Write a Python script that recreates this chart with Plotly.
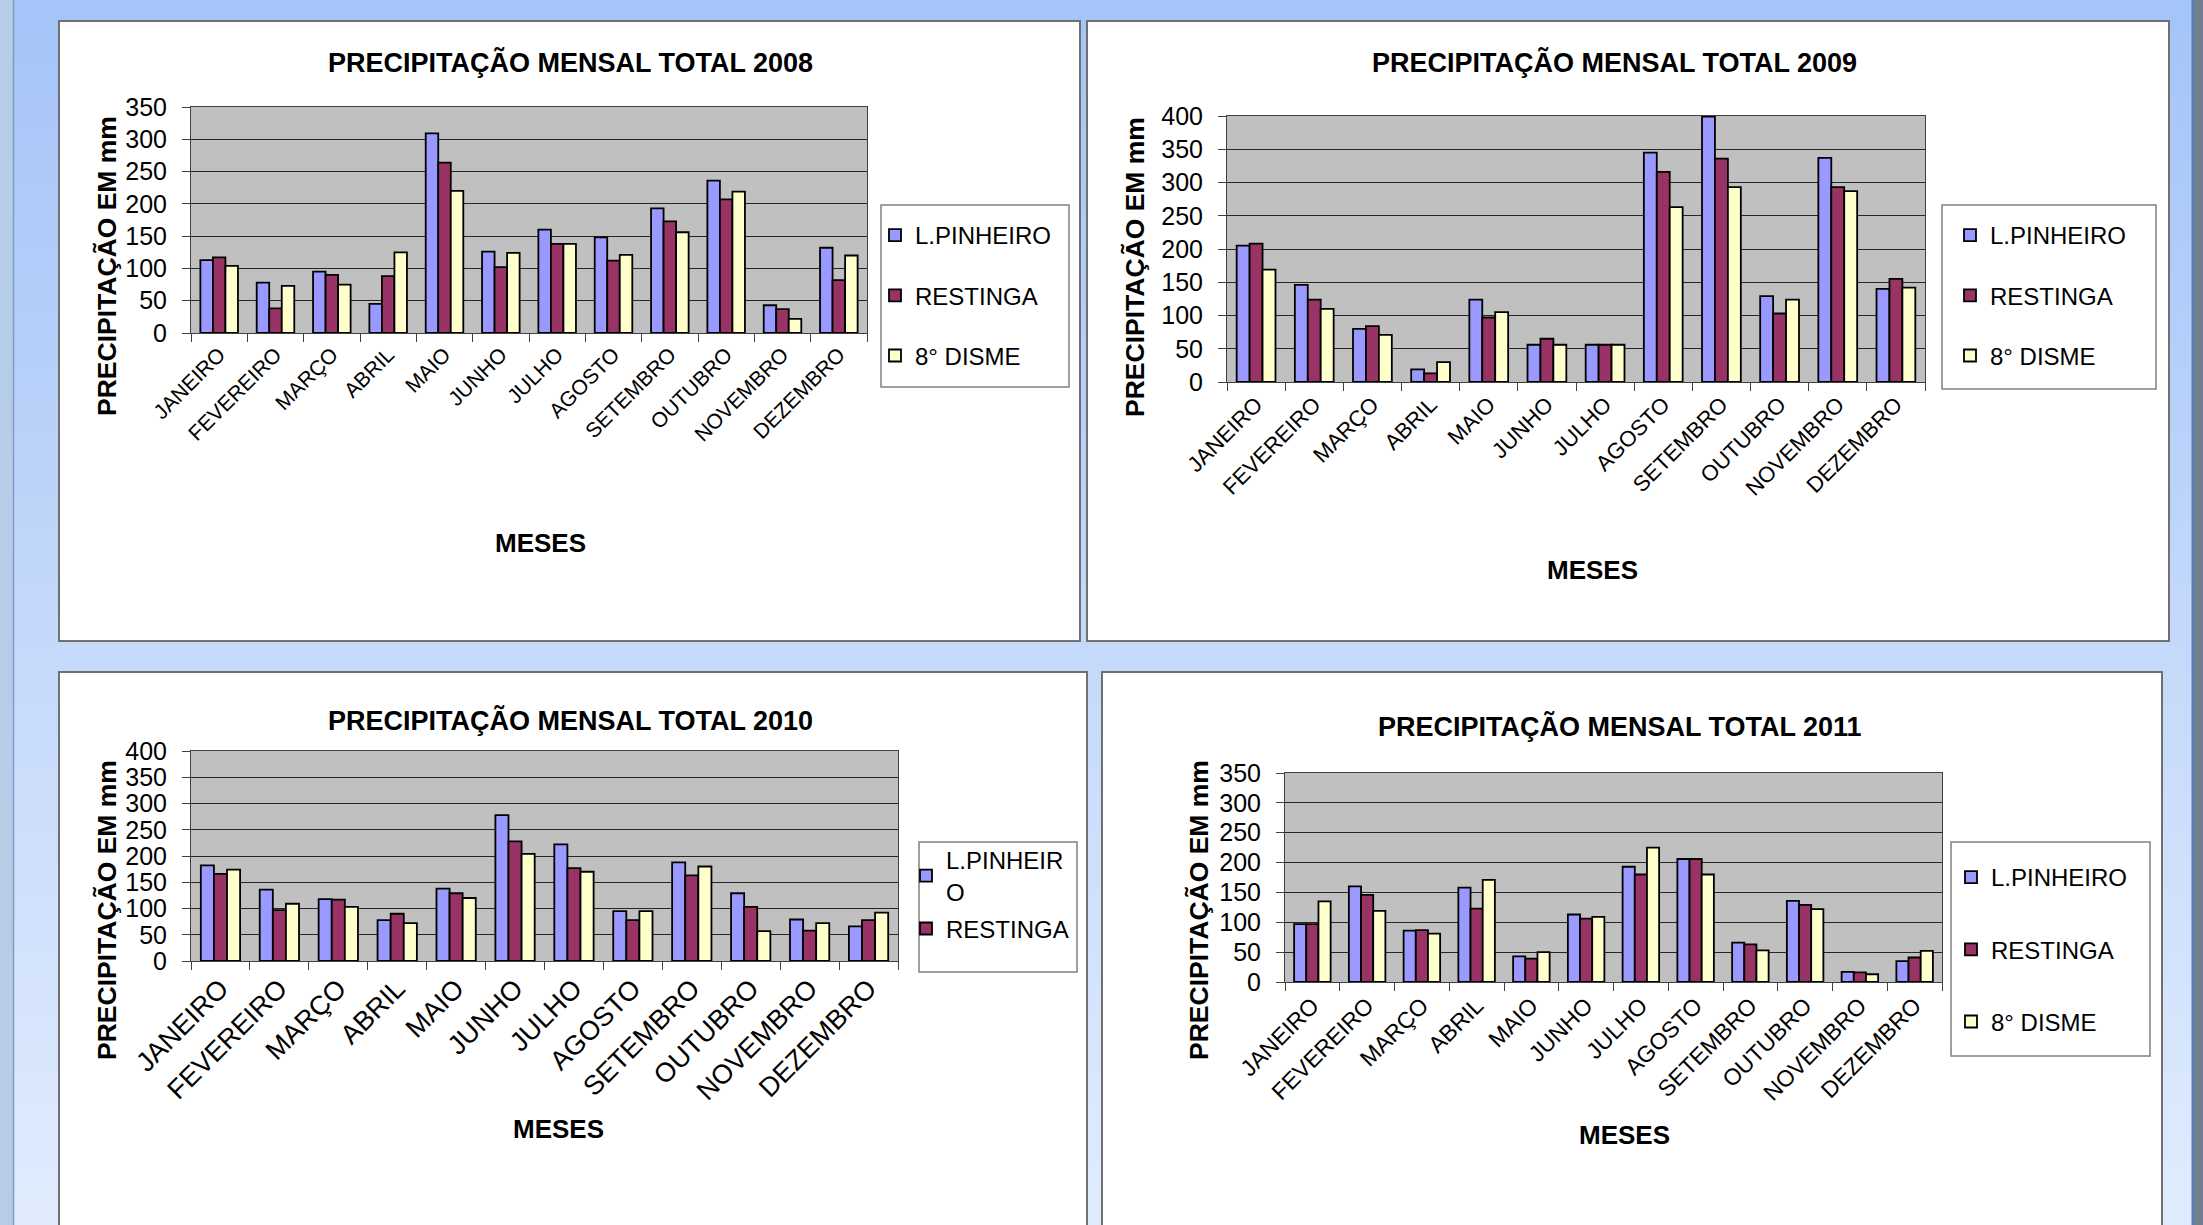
import plotly.graph_objects as go

W, H = 2203, 1225

MONTHS = ["JANEIRO", "FEVEREIRO", "MARÇO", "ABRIL", "MAIO", "JUNHO",
          "JULHO", "AGOSTO", "SETEMBRO", "OUTUBRO", "NOVEMBRO", "DEZEMBRO"]
SERIES = ["L.PINHEIRO", "RESTINGA", "8° DISME"]

lp_2008 = [113, 78, 95, 45, 309, 126, 160, 148, 193, 236, 43, 132]
re_2008 = [117, 38, 90, 88, 264, 102, 138, 112, 173, 207, 37, 82]
di_2008 = [104, 73, 75, 125, 220, 124, 138, 121, 156, 219, 22, 120]

lp_2009 = [205, 146, 80, 19, 124, 56, 56, 345, 399, 129, 337, 140]
re_2009 = [208, 124, 84, 13, 97, 65, 56, 316, 336, 103, 293, 155]
di_2009 = [169, 110, 71, 30, 105, 56, 56, 263, 293, 124, 287, 142]

lp_2010 = [182, 136, 118, 78, 138, 278, 222, 95, 188, 129, 79, 66]
re_2010 = [166, 97, 117, 90, 129, 228, 177, 78, 163, 103, 58, 78]
di_2010 = [174, 109, 103, 72, 120, 204, 170, 95, 180, 57, 72, 92]

lp_2011 = [97, 160, 86, 158, 43, 113, 193, 206, 66, 136, 17, 35]
re_2011 = [97, 146, 87, 123, 39, 106, 180, 206, 63, 129, 16, 41]
di_2011 = [135, 119, 81, 171, 50, 109, 225, 180, 53, 122, 13, 52]

COLORS = ["#9999FF", "#993366", "#FFFFCC"]
FONT = "Liberation Sans, Arial, sans-serif"


def fx(x):
    return x / W


def fy(y):
    return 1 - y / H


panels = [
    dict(year="2008", data=[lp_2008, re_2008, di_2008], ymax=350,
         box=(59, 21, 1080, 641), plot=(191, 107, 867, 333),
         title=(570, 63), ytitle=(107, 266), xtitle=(540, 543), xfont=21,
         leg=(875, 213, 26), legbox=(881, 205, 1069, 387),
         names=SERIES, show=[True, True, True]),
    dict(year="2009", data=[lp_2009, re_2009, di_2009], ymax=400,
         box=(1087, 21, 2169, 641), plot=(1227, 116, 1925, 382),
         title=(1614, 63), ytitle=(1135, 267), xtitle=(1592, 570), xfont=22,
         leg=(1950, 213, 26), legbox=(1942, 205, 2156, 389),
         names=SERIES, show=[True, True, True]),
    dict(year="2010", data=[lp_2010, re_2010, di_2010], ymax=400,
         box=(59, 672, 1087, 1240), plot=(191, 751, 898, 961),
         title=(570, 720), ytitle=(107, 910), xtitle=(558, 1129), xfont=27,
         leg=(906, 838, 3), legbox=(919, 842, 1077, 972),
         names=["L.PINHEIR<br>O", "RESTINGA", "8° DISME"], show=[True, True, False]),
    dict(year="2011", data=[lp_2011, re_2011, di_2011], ymax=350,
         box=(1102, 672, 2162, 1240), plot=(1285, 773, 1942, 982),
         title=(1620, 726), ytitle=(1199, 910), xtitle=(1624, 1135), xfont=23,
         leg=(1951, 855, 38), legbox=(1951, 842, 2150, 1056),
         names=SERIES, show=[True, True, True]),
]

fig = go.Figure()
shapes = []
annotations = []

# page background (vertical gradient in bands)
top_c = (165, 196, 247)
bot_c = (224, 235, 253)
nb = 40
for i in range(nb):
    t = i / (nb - 1)
    c = tuple(int(round(top_c[k] + (bot_c[k] - top_c[k]) * t)) for k in range(3))
    shapes.append(dict(type="rect", xref="paper", yref="paper", layer="below",
                       x0=0, x1=1, y0=fy((i + 1) * H / nb + 1), y1=fy(i * H / nb),
                       fillcolor="rgb(%d,%d,%d)" % c, line=dict(width=0)))
# left strip and right edge
shapes.append(dict(type="rect", xref="paper", yref="paper", layer="below",
                   x0=0, x1=fx(13), y0=0, y1=1, fillcolor="#b7cce6", line=dict(width=0)))
shapes.append(dict(type="line", xref="paper", yref="paper", layer="below",
                   x0=fx(13.5), x1=fx(13.5), y0=0, y1=1, line=dict(color="#7d9cc8", width=1.5)))
shapes.append(dict(type="rect", xref="paper", yref="paper", layer="below",
                   x0=fx(2193), x1=1, y0=0, y1=1, fillcolor="#71808e", line=dict(width=0)))
shapes.append(dict(type="line", xref="paper", yref="paper", layer="below",
                   x0=fx(2192.5), x1=fx(2192.5), y0=0, y1=1, line=dict(color="#4d7cc6", width=2)))

layout_axes = {}
for idx, p in enumerate(panels):
    n = "" if idx == 0 else str(idx + 1)
    xa, ya = "x" + n, "y" + n
    legname = "legend" + n
    bx0, by0, bx1, by1 = p["box"]
    shapes.append(dict(type="rect", xref="paper", yref="paper", layer="below",
                       x0=fx(bx0), x1=fx(bx1), y0=fy(by1), y1=fy(by0),
                       fillcolor="white", line=dict(color="#707070", width=2)))
    lx0, ly0, lx1, ly1 = p["legbox"]
    shapes.append(dict(type="rect", xref="paper", yref="paper", layer="below",
                       x0=fx(lx0), x1=fx(lx1), y0=fy(ly1), y1=fy(ly0),
                       fillcolor="white", line=dict(color="#808080", width=1.5)))
    px0, py0, px1, py1 = p["plot"]
    # plot-area fill (grey), placed above the white panel
    shapes.append(dict(type="rect", xref="paper", yref="paper", layer="below",
                       x0=fx(px0), x1=fx(px1), y0=fy(py1), y1=fy(py0),
                       fillcolor="#C0C0C0", line=dict(width=0)))
    for j in range(3):
        fig.add_trace(go.Bar(
            x=MONTHS, y=p["data"][j], name=p["names"][j],
            marker=dict(color=COLORS[j], line=dict(color="black", width=1.8)),
            xaxis=xa, yaxis=ya, legend=legname,
            legendgroup="g%d_%d" % (idx, j), showlegend=p["show"][j],
            hoverinfo="x+y+name"))
    layout_axes["xaxis" + n] = dict(
        domain=[fx(px0), fx(px1)], anchor=ya, type="category",
        showgrid=False, showline=True, linecolor="#404040", linewidth=1, mirror=True,
        ticks="outside", tickson="boundaries", ticklen=8, tickcolor="#404040",
        tickangle=-45, tickfont=dict(family=FONT, size=p["xfont"], color="black"),
        automargin=False, fixedrange=True)
    layout_axes["yaxis" + n] = dict(
        domain=[fy(py1), fy(py0)], anchor=xa, range=[0, p["ymax"]],
        tickmode="linear", tick0=0, dtick=50,
        showgrid=True, gridcolor="#262626", gridwidth=1.2,
        showline=True, linecolor="#404040", linewidth=1, mirror=True,
        ticks="outside", ticklen=8, tickcolor="#404040", ticklabelstandoff=10,
        tickfont=dict(family=FONT, size=25, color="black"), zeroline=False,
        automargin=False, fixedrange=True)
    lgx, lgy, gap = p["leg"]
    layout_axes[legname] = dict(
        x=fx(lgx), y=fy(lgy), xanchor="left", yanchor="top",
        bgcolor="rgba(0,0,0,0)", borderwidth=0, traceorder="grouped",
        tracegroupgap=gap, font=dict(family=FONT, size=24, color="black"))
    tx, ty = p["title"]
    annotations.append(dict(text="<b>PRECIPITAÇÃO MENSAL TOTAL %s</b>" % p["year"],
                            x=fx(tx), y=fy(ty), xref="paper", yref="paper",
                            xanchor="center", yanchor="middle", showarrow=False,
                            font=dict(family=FONT, size=27, color="black")))
    yx, yy = p["ytitle"]
    annotations.append(dict(text="<b>PRECIPITAÇÃO EM mm</b>", textangle=-90,
                            x=fx(yx), y=fy(yy), xref="paper", yref="paper",
                            xanchor="center", yanchor="middle", showarrow=False,
                            font=dict(family=FONT, size=26.5, color="black")))
    mx, my = p["xtitle"]
    annotations.append(dict(text="<b>MESES</b>",
                            x=fx(mx), y=fy(my), xref="paper", yref="paper",
                            xanchor="center", yanchor="middle", showarrow=False,
                            font=dict(family=FONT, size=26, color="black")))

fig.update_layout(
    width=W, height=H,
    margin=dict(l=0, r=0, t=0, b=0, pad=0, autoexpand=False),
    paper_bgcolor="#a5c4f7", plot_bgcolor="#C0C0C0",
    barmode="group", bargap=0.333, bargroupgap=0,
    font=dict(family=FONT, color="black"),
    shapes=shapes, annotations=annotations,
    **layout_axes,
)

fig.write_html("out.html")
